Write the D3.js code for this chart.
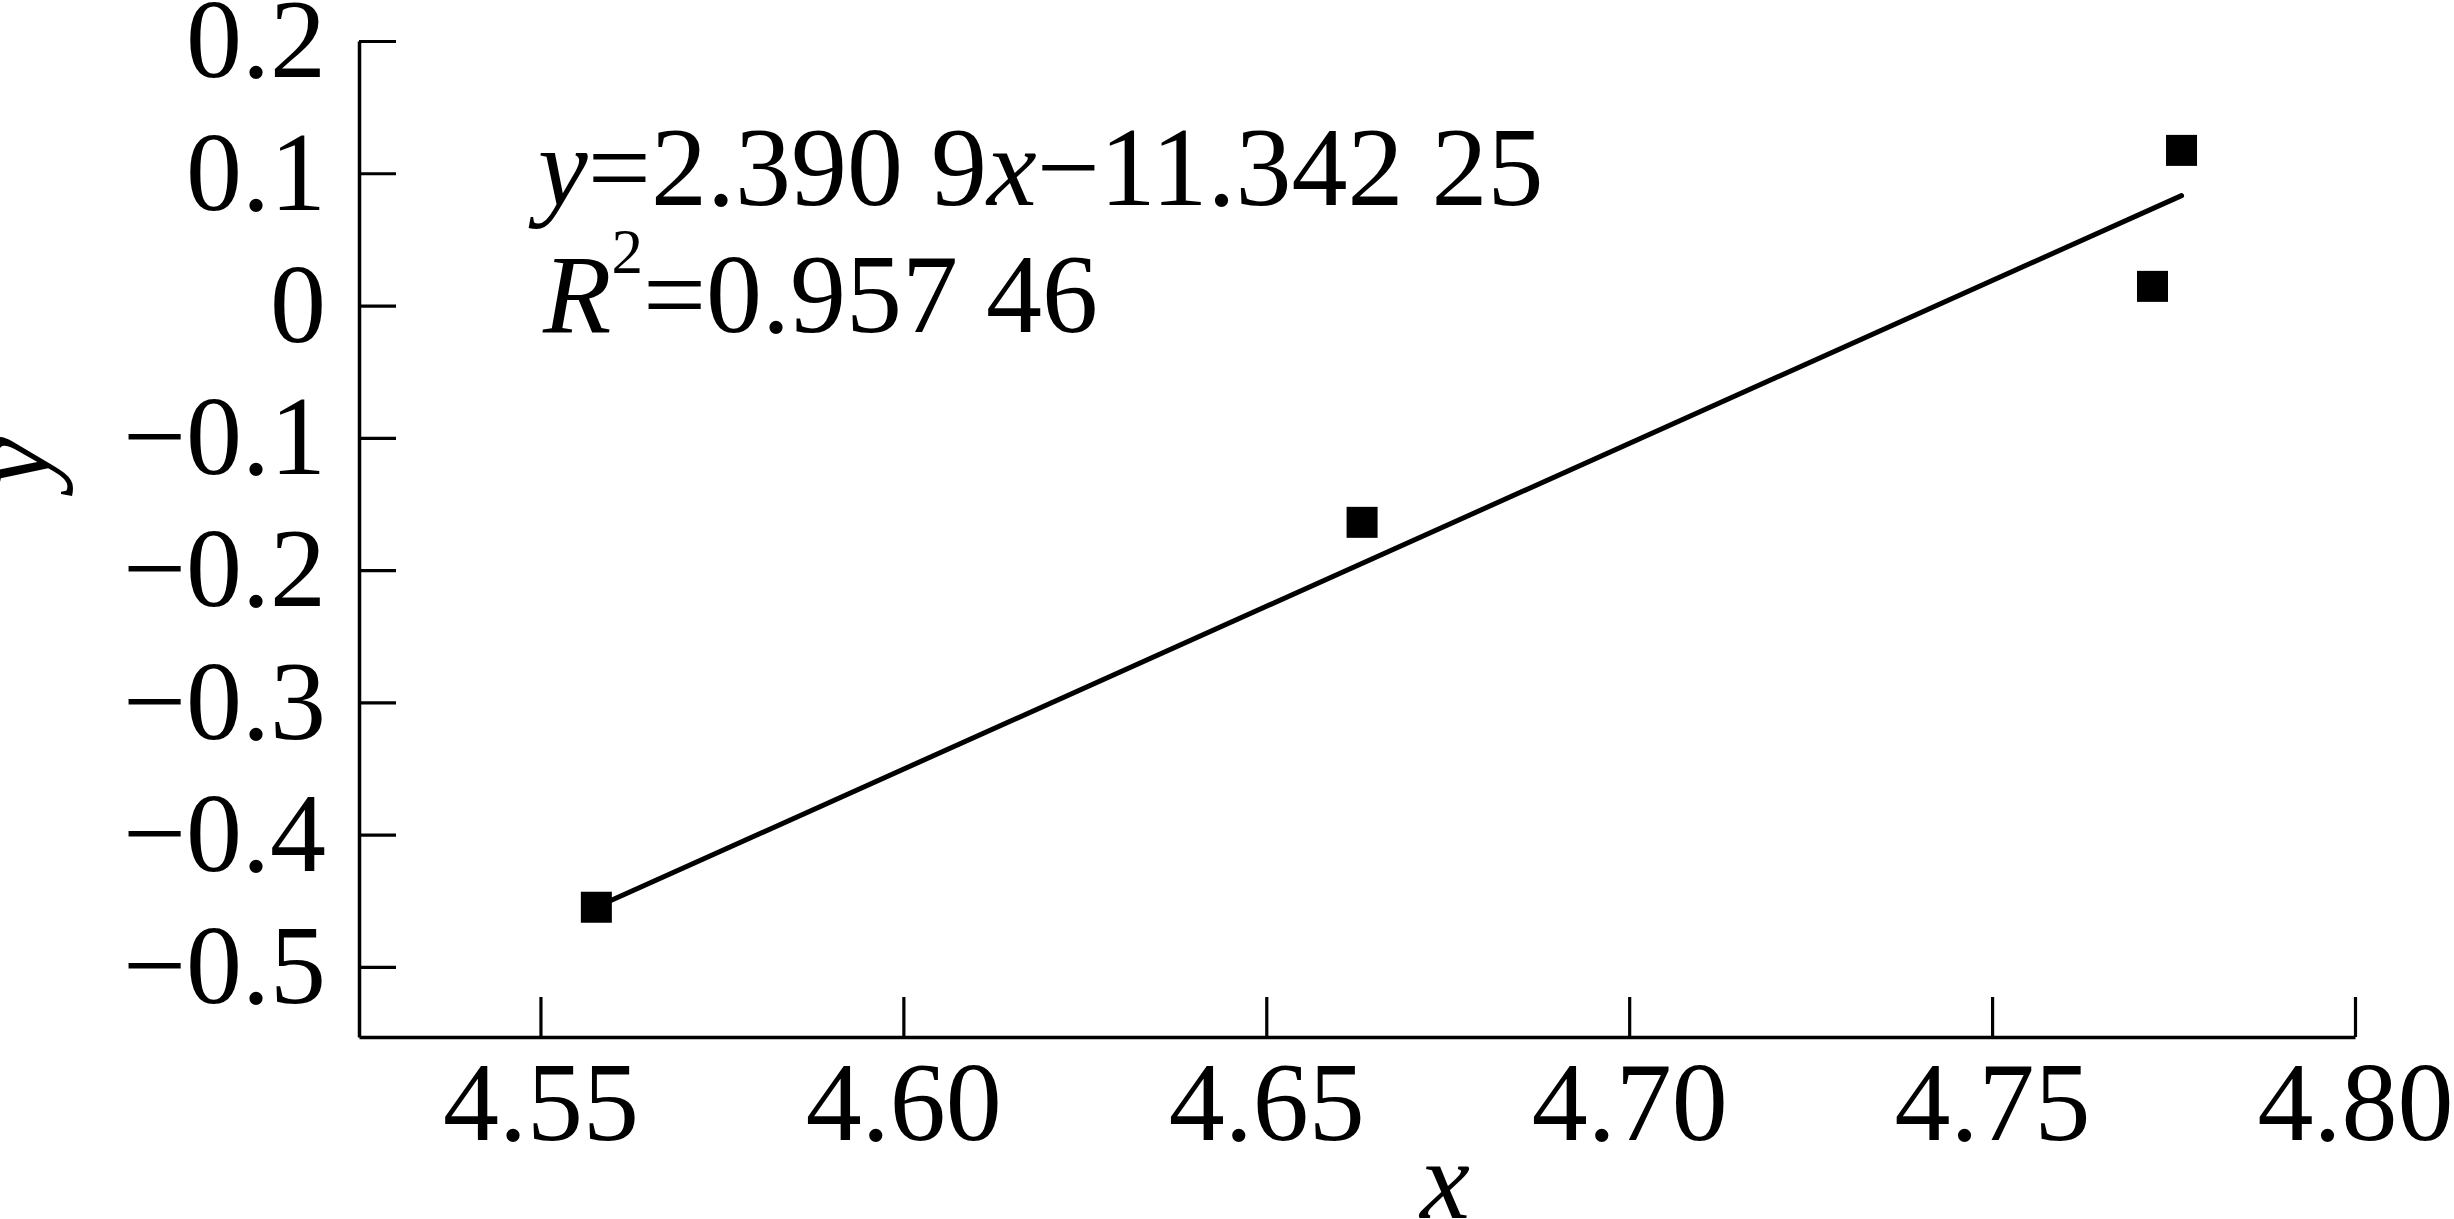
<!DOCTYPE html>
<html>
<head>
<meta charset="utf-8">
<script src="https://cdn.jsdelivr.net/npm/d3@7/dist/d3.min.js"></script>
<style>
  html, body { margin: 0; padding: 0; background: #fff; }
  svg { display: block; }
  text { font-family: "Liberation Serif", "Times New Roman", serif; fill: #000; }
</style>
</head>
<body>
<svg id="chart" width="2454" height="1219"></svg>
<script>
// ---- data ----
const xValues = [4.5577, 4.6632, 4.7721, 4.7761];
const yValues = [-0.4549, -0.1639, 0.0145, 0.1173];
const fitX = [4.5577, 4.7761];
const fitY = [-0.4547, 0.0831];
const xTicks = [4.55, 4.60, 4.65, 4.70, 4.75, 4.80];
const xTickLabels = ["4.55", "4.60", "4.65", "4.70", "4.75", "4.80"];
const yTicks = [-0.5, -0.4, -0.3, -0.2, -0.1, 0, 0.1, 0.2];
const yTickLabels = ["\u22120.5", "\u22120.4", "\u22120.3", "\u22120.2", "\u22120.1", "0", "0.1", "0.2"];
const xDomain = [4.525, 4.80];
const yDomain = [-0.553, 0.2];

(function () {
// ---- layout ----
const svg = d3.select("#chart");
const mLeft = 359, mRight = 2355, mTop = 41, mBottom = 1037;
const fs = 112;

const x = d3.scaleLinear().domain(xDomain).range([mLeft, mRight]);
const y = d3.scaleLinear().domain(yDomain).range([mBottom, mTop]);

// x axis
const gx = svg.append("g").attr("transform", `translate(0,${mBottom})`)
  .call(d3.axisBottom(x).tickValues(xTicks)
    .tickFormat((d, i) => xTickLabels[i])
    .tickSizeInner(-40).tickSizeOuter(0).tickPadding(0));
gx.select(".domain").attr("stroke", "#000").attr("stroke-width", 3.5);
gx.selectAll(".tick line").attr("stroke", "#000").attr("stroke-width", 3.2);
gx.selectAll(".tick text").attr("y", 103).attr("dy", null)
  .attr("font-size", fs).attr("font-family", null).attr("fill", "#000");

// y axis
const gy = svg.append("g").attr("transform", `translate(${mLeft},0)`)
  .call(d3.axisLeft(y).tickValues(yTicks)
    .tickFormat((d, i) => yTickLabels[i])
    .tickSizeInner(-37).tickSizeOuter(0).tickPadding(33));
gy.select(".domain").attr("stroke", "#000").attr("stroke-width", 3.5);
gy.selectAll(".tick line").attr("stroke", "#000").attr("stroke-width", 3.2);
gy.selectAll(".tick text").attr("font-size", fs).attr("font-family", null).attr("fill", "#000");

// fit line
svg.append("path")
  .datum(fitX.map((v, i) => [v, fitY[i]]))
  .attr("d", d3.line().x(d => x(d[0])).y(d => y(d[1])))
  .attr("fill", "none").attr("stroke", "#000")
  .attr("stroke-width", 5).attr("stroke-linecap", "round");

// points
const sz = 31;
svg.append("g").selectAll("rect")
  .data(xValues.map((v, i) => [v, yValues[i]]))
  .join("rect")
  .attr("x", d => x(d[0]) - sz / 2)
  .attr("y", d => y(d[1]) - sz / 2)
  .attr("width", sz).attr("height", sz)
  .attr("fill", "#000");

// equation
const eq1 = svg.append("text").attr("x", 538).attr("y", 205).attr("font-size", fs);
eq1.append("tspan").attr("font-style", "italic").text("y");
eq1.append("tspan").text("=2.390 9");
eq1.append("tspan").attr("font-style", "italic").text("x");
eq1.append("tspan").text("\u221211.342 25");

const eq2 = svg.append("text").attr("x", 543).attr("y", 332).attr("font-size", fs);
eq2.append("tspan").attr("font-style", "italic").text("R");
eq2.append("tspan").attr("font-size", 63).attr("dy", -59).text("2");
eq2.append("tspan").attr("dy", 59).text("=0.957 46");

// axis titles
svg.append("text").attr("transform", "translate(49,462) rotate(-90)")
  .attr("text-anchor", "middle").attr("font-size", fs).attr("font-style", "italic").text("y");
svg.append("text").attr("x", 1445).attr("y", 1218)
  .attr("text-anchor", "middle").attr("font-size", fs).attr("font-style", "italic").text("x");
})();
</script>
</body>
</html>
